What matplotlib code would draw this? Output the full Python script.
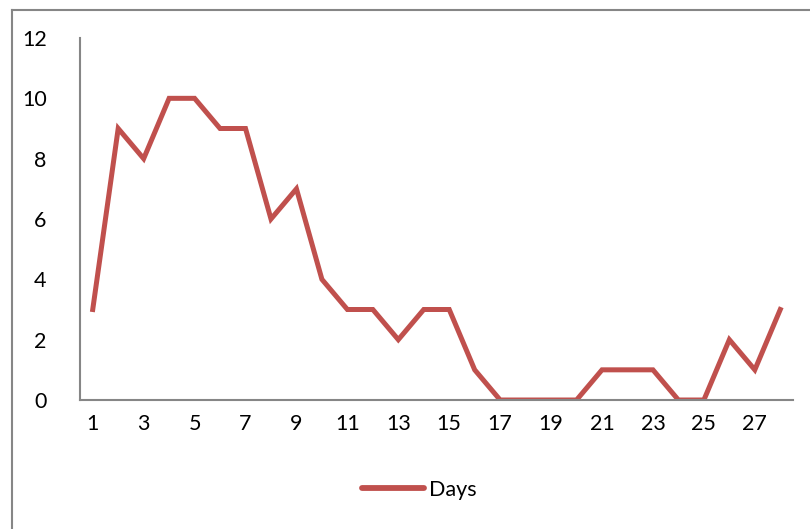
import matplotlib.pyplot as plt
from matplotlib.lines import Line2D

# Daily counts, one value per day
days = list(range(1, 29))
counts = [3, 9, 8, 10, 10, 9, 9, 6, 7, 4, 3, 3, 2, 3, 3, 1, 0, 0, 0, 0,
          1, 1, 1, 0, 0, 2, 1, 3]
y_ticks = [0, 2, 4, 6, 8, 10, 12]
x_ticks = list(range(1, 29, 2))

LINE_COLOR = "#C0504D"
AXIS_COLOR = "#868686"

plt.rcParams["font.family"] = ["Lato", "DejaVu Sans"]

W, H = 810, 529
fig = plt.figure(figsize=(W / 100, H / 100), dpi=100)
fig.patch.set_facecolor("white")

# Chart area border (only top and left edges fall inside the image)
fig.add_artist(Line2D([12 / W, 12 / W], [0, 1 - 10 / H], transform=fig.transFigure,
                      color=AXIS_COLOR, lw=1.5))
fig.add_artist(Line2D([12 / W, 1], [1 - 10 / H, 1 - 10 / H], transform=fig.transFigure,
                      color=AXIS_COLOR, lw=1.5))

ax = fig.add_axes([80 / W, 1 - 400 / H, (793 - 80) / W, (400 - 38) / H])
ax.plot(days, counts, color=LINE_COLOR, lw=3.6, solid_joinstyle="miter", label="Days")

ax.set_xlim(0.5, 28.5)
ax.set_ylim(0, 12)
ax.set_xticks(x_ticks)
ax.set_yticks(y_ticks)
ax.tick_params(length=0, labelsize=15.5, colors="black")
ax.tick_params(axis="x", pad=10)
ax.tick_params(axis="y", pad=24)

for side in ["top", "right"]:
    ax.spines[side].set_visible(False)
for side in ["left", "bottom"]:
    ax.spines[side].set_color(AXIS_COLOR)
    ax.spines[side].set_linewidth(1.5)

fig.legend(handles=[Line2D([], [], color=LINE_COLOR, lw=4.2, solid_capstyle="round")],
           labels=["Days"], loc="center", bbox_to_anchor=(419 / W, 1 - 490 / H),
           frameon=False, fontsize=15.5, handlelength=2.9, handletextpad=0.2)

fig.savefig("out.png", dpi=100)
